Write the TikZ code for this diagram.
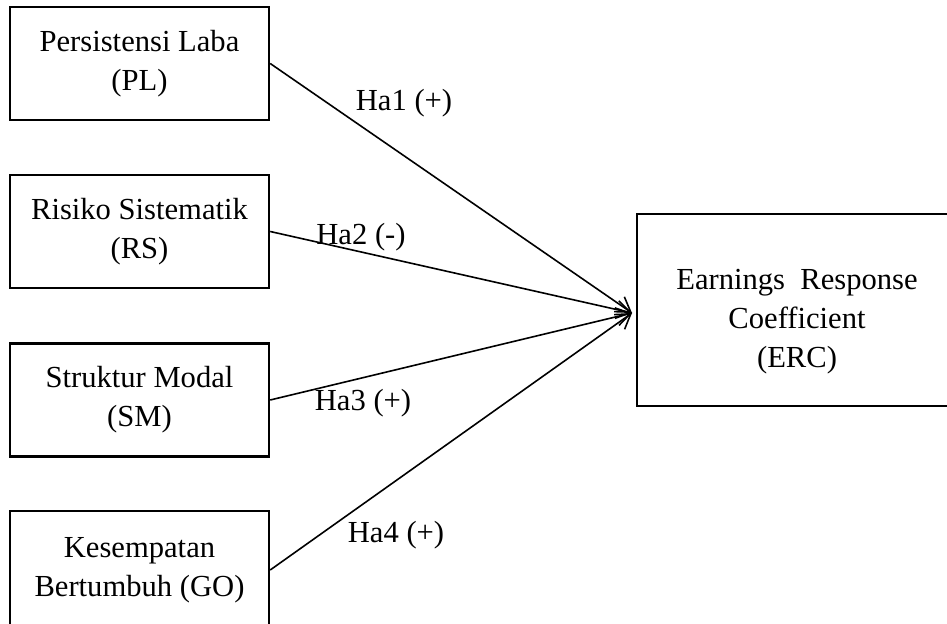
\documentclass[tikz,border=0pt]{standalone}
\usepackage{fontspec}
\setmainfont{Liberation Serif}
\usetikzlibrary{arrows.meta}

\begin{document}
\begin{tikzpicture}[x=0.5pt, y=-0.5pt,
	varbox/.style={draw, line width=1.2pt, minimum width=129.5pt, minimum height=56.5pt, align=center, font=\fontsize{15.3pt}{19.5pt}\selectfont},
	hyp/.style={font=\fontsize{15.3pt}{18pt}\selectfont},
	link/.style={-{Straight Barb[length=7pt,width=9pt]}, line width=0.8pt}]
	\useasboundingbox (0,0) rectangle (947,624);

	\node[varbox] (PL) at (139.5,63.5) {Persistensi Laba\\(PL)};
	\node[varbox] (RS) at (139.5,231.5) {Risiko Sistematik\\(RS)};
	\node[varbox] (SM) at (139.5,400) {Struktur Modal\\(SM)};
	\node[varbox, minimum height=59pt] (GO) at (139.5,570) {Kesempatan\\Bertumbuh (GO)};

	\node[draw, line width=1.2pt, minimum width=159pt, minimum height=96pt] (ERC) at (796,310) {};
	\node[align=center, font=\fontsize{15.3pt}{19.5pt}\selectfont] (ERCtext) at (797,322) {Earnings\enspace Response\\Coefficient\\(ERC)};
	\coordinate (meet) at (632,313);

	\draw[link] (PL.east) -- (meet);
	\draw[link] (RS.east) -- (meet);
	\draw[link] (SM.east) -- (meet);
	\draw[link] (GO.east) -- (meet);

	\node[hyp] (ha1) at (404,103) {Ha1 (+)};
	\node[hyp] (ha2) at (361,237) {Ha2 (-)};
	\node[hyp] (ha3) at (363,403) {Ha3 (+)};
	\node[hyp] (ha4) at (396,535) {Ha4 (+)};
\end{tikzpicture}
\end{document}
